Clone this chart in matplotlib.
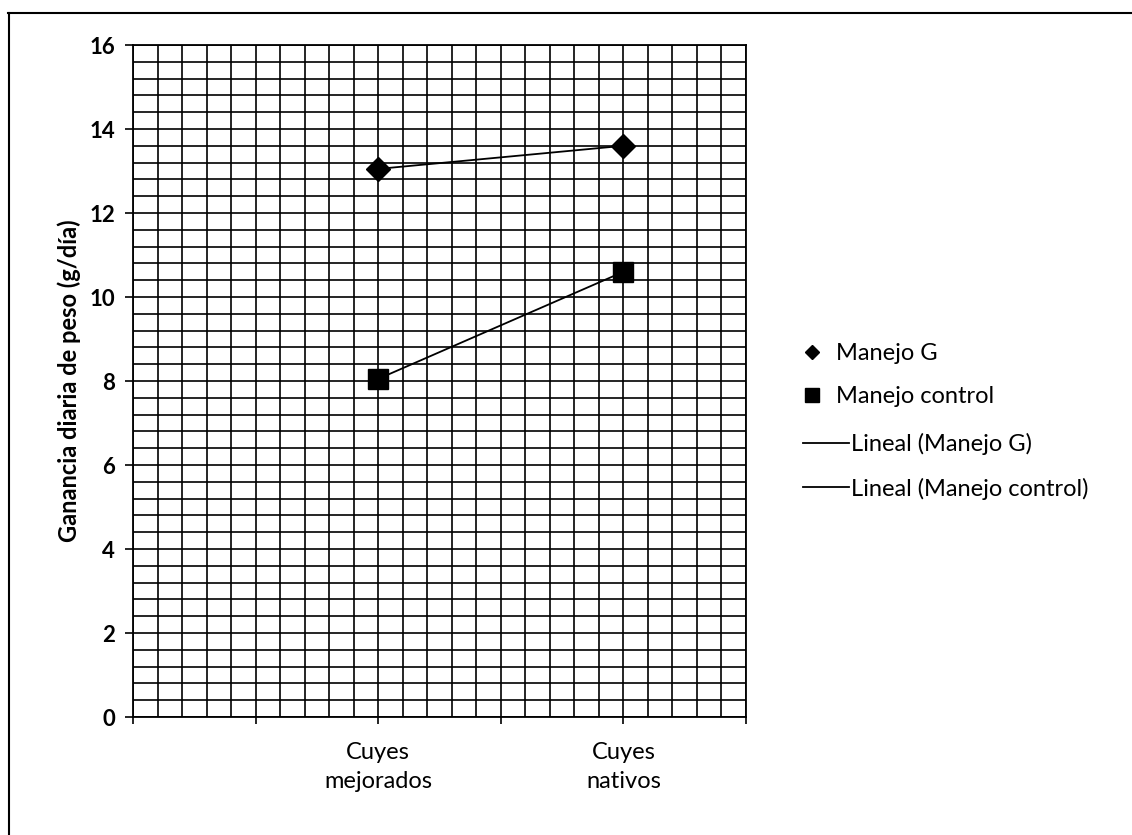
import numpy as np
import matplotlib
matplotlib.use("Agg")
import matplotlib.pyplot as plt
from matplotlib.ticker import MultipleLocator
from matplotlib.lines import Line2D

plt.rcParams['font.family'] = ['Lato', 'DejaVu Sans']

categories = ["Cuyes\nmejorados", "Cuyes\nnativos"]
cat_pos = [1, 2]
manejo_g = [13.05, 13.6]
manejo_control = [8.05, 10.6]

fig = plt.figure(figsize=(11.32, 8.35), dpi=100)
ax = fig.add_axes([133/1132, 1-717/835, (746-133)/1132, (717-45)/835])

ax.set_xlim(0, 2.5)
ax.set_ylim(0, 16)
ax.xaxis.set_major_locator(MultipleLocator(0.5))
ax.xaxis.set_minor_locator(MultipleLocator(0.1))
ax.yaxis.set_major_locator(MultipleLocator(2))
ax.yaxis.set_minor_locator(MultipleLocator(0.4))
ax.grid(True, which='both', color='black', linewidth=1.2)
ax.set_axisbelow(True)
for s in ax.spines.values():
    s.set_linewidth(1.3)

xt = np.arange(0, 2.51, 0.5)
labels = []
for v in xt:
    lab = ''
    for p, c in zip(cat_pos, categories):
        if abs(v - p) < 1e-6:
            lab = c
    labels.append(lab)
ax.set_xticks(xt)
ax.set_xticklabels(labels, fontsize=17, linespacing=1.5)
ax.tick_params(axis='x', which='major', length=5, width=1.2, pad=13)
ax.tick_params(axis='y', which='major', length=6, width=1.2, pad=7, labelsize=16)
ax.tick_params(which='minor', length=0)
for lbl in ax.get_yticklabels():
    lbl.set_fontweight('bold')

ax.set_ylabel("Ganancia diaria de peso (g/día)", fontsize=17, fontweight='bold', labelpad=6)

x = np.array(cat_pos, dtype=float)
# trend lines (linear fits)
for yv in (manejo_g, manejo_control):
    m, b = np.polyfit(x, yv, 1)
    ax.plot(x, m * x + b, color='black', linewidth=1.3, zorder=3)

ax.plot(x, manejo_g, linestyle='none', marker='D', markersize=12, color='black', zorder=4)
ax.plot(x, manejo_control, linestyle='none', marker='s', markersize=14, color='black', zorder=4)

# legend
h1 = [Line2D([], [], linestyle='none', marker='D', markersize=7.5, color='black'),
      Line2D([], [], linestyle='none', marker='s', markersize=10, color='black')]
leg1 = fig.legend(h1, ["Manejo G", "Manejo control"], loc='upper left',
                  bbox_to_anchor=(800/1132, 1-343/835), frameon=False, fontsize=17,
                  handlelength=1.0, handletextpad=0.52, labelspacing=0.95,
                  borderpad=0, borderaxespad=0)
h2 = [Line2D([], [], color='black', linewidth=1.3),
      Line2D([], [], color='black', linewidth=1.3)]
leg2 = fig.legend(h2, ["Lineal (Manejo G)", "Lineal (Manejo control)"], loc='upper left',
                  bbox_to_anchor=(803/1132, 1-433/835), frameon=False, fontsize=17,
                  handlelength=1.95, handletextpad=0.1, labelspacing=0.95,
                  borderpad=0, borderaxespad=0)

# frame of the figure (top and left edges)
fig.add_artist(Line2D([8/1132, 1], [1-13/835, 1-13/835], transform=fig.transFigure, color='black', linewidth=1.5))
fig.add_artist(Line2D([9/1132, 9/1132], [0, 1-13/835], transform=fig.transFigure, color='black', linewidth=1.5))

fig.savefig("out.png", dpi=100)
